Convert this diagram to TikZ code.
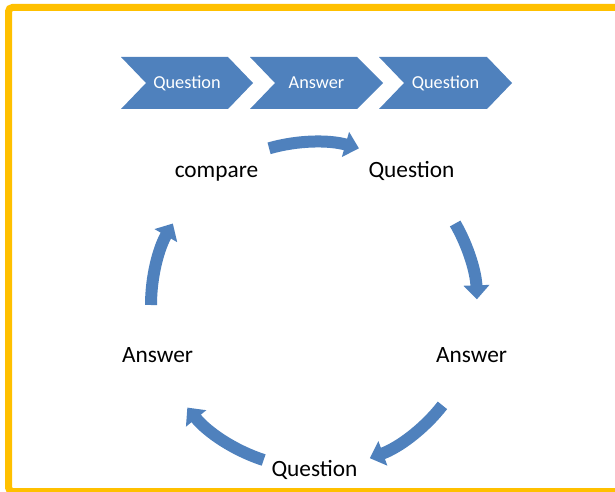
\documentclass[tikz,border=0pt]{standalone}
\usepackage{fontspec}
\setmainfont{Carlito}
\usepackage{xcolor}
\usepackage{tikz}
\usetikzlibrary{arrows.meta}
\definecolor{accentblue}{HTML}{4F81BD}
\definecolor{frameyellow}{HTML}{FFC000}

\begin{document}
\begin{tikzpicture}[x=0.75pt,y=0.75pt]
		\tikzstyle{frame}=[draw=frameyellow, line width=5.25pt, rounded corners=3pt]
		\tikzstyle{chevron}=[fill=accentblue]
		\tikzstyle{chev_text}=[text=white, font=\fontsize{13.7}{16}\selectfont, anchor=base]
		\tikzstyle{step_text}=[text=black, font=\fontsize{17.5}{21}\selectfont, anchor=base]
		\tikzstyle{cycle_arrow}=[draw=accentblue, line width=9pt, -{Triangle[width=19pt,length=10.5pt]}]

		\clip (0,0) rectangle (615,-492);
		\draw [frame] (8.5,-7.5) rectangle (650,-491.5);

		% process chevrons
		\fill [chevron] (121,-57) -- (228,-57) -- (253,-83) -- (228,-109) -- (121,-109) -- (146,-83) -- cycle;
		\node [chev_text] (chev1) at (187,-88.5) {Question};

		\fill [chevron] (250,-57) -- (357,-57) -- (383,-83) -- (357,-109) -- (250,-109) -- (275,-83) -- cycle;
		\node [chev_text] (chev2) at (316.5,-88.5) {Answer};

		\fill [chevron] (379,-57) -- (487,-57) -- (512,-83) -- (487,-109) -- (379,-109) -- (404,-83) -- cycle;
		\node [chev_text] (chev3) at (445.5,-88.5) {Question};

		% cycle labels
		\node [step_text] (compare) at (216.5,-177) {compare};
		\node [step_text] (quest1) at (411.5,-177) {Question};
		\node [step_text] (answer1) at (471.5,-362) {Answer};
		\node [step_text] (quest2) at (314.5,-476) {Question};
		\node [step_text] (answer2) at (157.5,-362) {Answer};

		% cycle arrows
		\coordinate (hub) at (314,-305);
		\coordinate (arr1) at ([shift={(106:163)}]hub);
		\coordinate (arr2) at ([shift={(30:163)}]hub);
		\coordinate (arr3) at ([shift={(-38:163)}]hub);
		\coordinate (arr4) at ([shift={(-108:163)}]hub);
		\coordinate (arr5) at ([shift={(180:163)}]hub);

		\draw [cycle_arrow] (arr1) arc [start angle=106, end angle=74, radius=163];
		\draw [cycle_arrow] (arr2) arc [start angle=30, end angle=2, radius=163];
		\draw [cycle_arrow] (arr3) arc [start angle=-38, end angle=-70, radius=163];
		\draw [cycle_arrow] (arr4) arc [start angle=-108, end angle=-141, radius=163];
		\draw [cycle_arrow] (arr5) arc [start angle=180, end angle=150, radius=163];

	\end{tikzpicture}
\end{document}
